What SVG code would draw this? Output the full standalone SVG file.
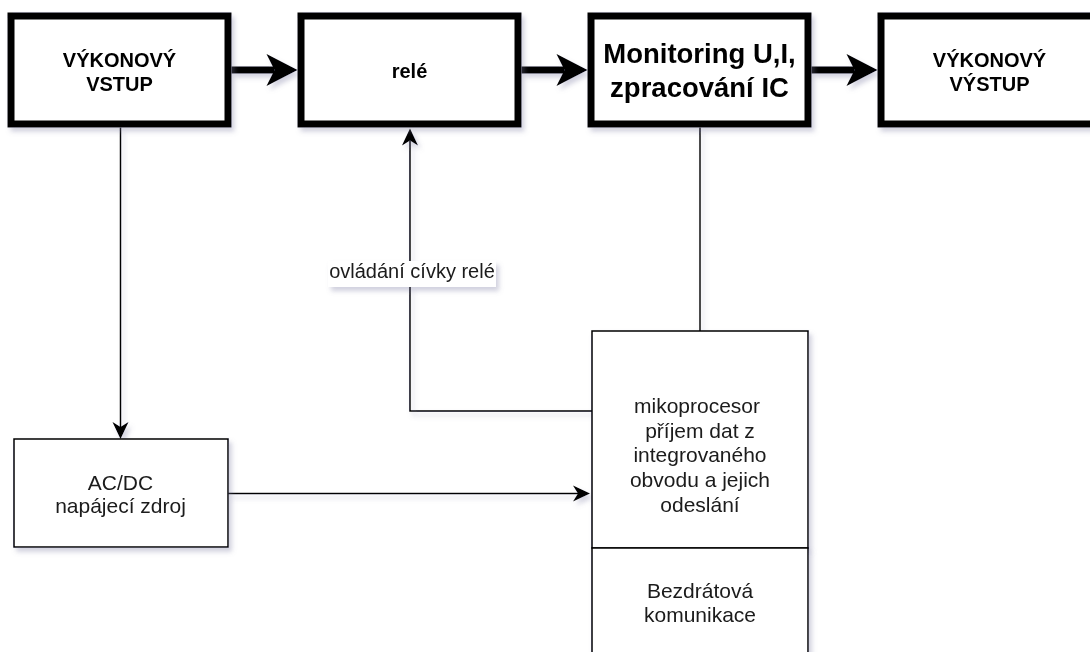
<svg xmlns="http://www.w3.org/2000/svg" width="1090" height="652" viewBox="0 0 1090 652">
  <style>
    .thick { fill: #ffffff; stroke: #000000; stroke-width: 7; }
    .thin { fill: #ffffff; stroke: #000000; stroke-width: 1.5; }
    .bold { font-family: "Liberation Sans", Arial, sans-serif; font-weight: bold; font-size: 20px; fill: #000000; text-anchor: middle; }
    .big { font-family: "Liberation Sans", Arial, sans-serif; font-weight: bold; font-size: 27.5px; fill: #000000; text-anchor: middle; }
    .reg { font-family: "Liberation Sans", Arial, sans-serif; font-size: 21px; fill: #1a1a1a; text-anchor: middle; }
    .lbl { font-family: "Liberation Sans", Arial, sans-serif; font-size: 20px; fill: #1a1a1a; text-anchor: middle; }
    .edge-thick { fill: none; stroke: #000000; stroke-width: 7; }
    .edge-thin { fill: none; stroke: #000000; stroke-width: 1.5; }
  </style>
  <defs>
    <filter id="sh" x="-10%" y="-10%" width="130%" height="130%">
      <feDropShadow dx="3" dy="4" stdDeviation="2.5" flood-color="#7a7aa0" flood-opacity="0.35"/>
    </filter>
    <marker id="ahThick" markerUnits="userSpaceOnUse" viewBox="0 0 32 33" refX="8" refY="16.5" markerWidth="32" markerHeight="33" orient="auto" overflow="visible">
      <path d="M31 16.5 L0 0.5 L8 16.5 L0 32.5 Z" fill="#000000"/>
    </marker>
    <marker id="ahThin" markerUnits="userSpaceOnUse" viewBox="0 0 18 18" refX="5" refY="9" markerWidth="18" markerHeight="18" orient="auto" overflow="visible">
      <path d="M17 9 L0 1 L5 9 L0 17 Z" fill="#000000"/>
    </marker>
  </defs>

  <g id="connectors" filter="url(#sh)">
    <path class="edge-thick" d="M231.5 70 L274.5 70" marker-end="url(#ahThick)"/>
    <path class="edge-thick" d="M521.5 70 L564.5 70" marker-end="url(#ahThick)"/>
    <path class="edge-thick" d="M811.5 70 L854.5 70" marker-end="url(#ahThick)"/>
    <path class="edge-thin" d="M120.5 127.5 L120.5 427" marker-end="url(#ahThin)"/>
    <path class="edge-thin" d="M228 493.5 L578 493.5" marker-end="url(#ahThin)"/>
    <path class="edge-thin" d="M700 127.5 L700 331"/>
    <path class="edge-thin" d="M592 411 L410 411 L410 140.5" marker-end="url(#ahThin)"/>
    <rect x="328" y="261" width="168" height="26" fill="#ffffff"/>
    <text class="lbl" x="412" y="278">ovládání cívky relé</text>
  </g>

  <g id="vykonovy-vstup" filter="url(#sh)">
    <rect class="thick" x="11" y="16" width="217" height="108"/>
    <text class="bold" x="119.5" y="66.5">VÝKONOVÝ</text>
    <text class="bold" x="119.5" y="90.5">VSTUP</text>
  </g>

  <g id="rele" filter="url(#sh)">
    <rect class="thick" x="301" y="16" width="217" height="108"/>
    <text class="bold" x="409.5" y="78">relé</text>
  </g>

  <g id="monitoring" filter="url(#sh)">
    <rect class="thick" x="591" y="16" width="217" height="108"/>
    <text class="big" x="699.5" y="63">Monitoring U,I,</text>
    <text class="big" x="699.5" y="97">zpracování IC</text>
  </g>

  <g id="vykonovy-vystup" filter="url(#sh)">
    <rect class="thick" x="881" y="16" width="217" height="108"/>
    <text class="bold" x="989.5" y="66.5">VÝKONOVÝ</text>
    <text class="bold" x="989.5" y="90.5">VÝSTUP</text>
  </g>

  <g id="acdc" filter="url(#sh)">
    <rect class="thin" x="14" y="439" width="214" height="108"/>
    <text class="reg" x="120.5" y="489.5">AC/DC</text>
    <text class="reg" x="120.5" y="513">napájecí zdroj</text>
  </g>

  <g id="mikroprocesor" filter="url(#sh)">
    <rect class="thin" x="592" y="331" width="216" height="217"/>
    <text class="reg" x="697" y="413">mikoprocesor</text>
    <text class="reg" x="700" y="437.5">příjem dat z</text>
    <text class="reg" x="700" y="462">integrovaného</text>
    <text class="reg" x="700" y="487">obvodu a jejich</text>
    <text class="reg" x="700" y="512">odeslání</text>
  </g>

  <g id="bezdratova" filter="url(#sh)">
    <rect class="thin" x="592" y="548" width="216" height="217"/>
    <text class="reg" x="700" y="598">Bezdrátová</text>
    <text class="reg" x="700" y="622">komunikace</text>
  </g>
</svg>
